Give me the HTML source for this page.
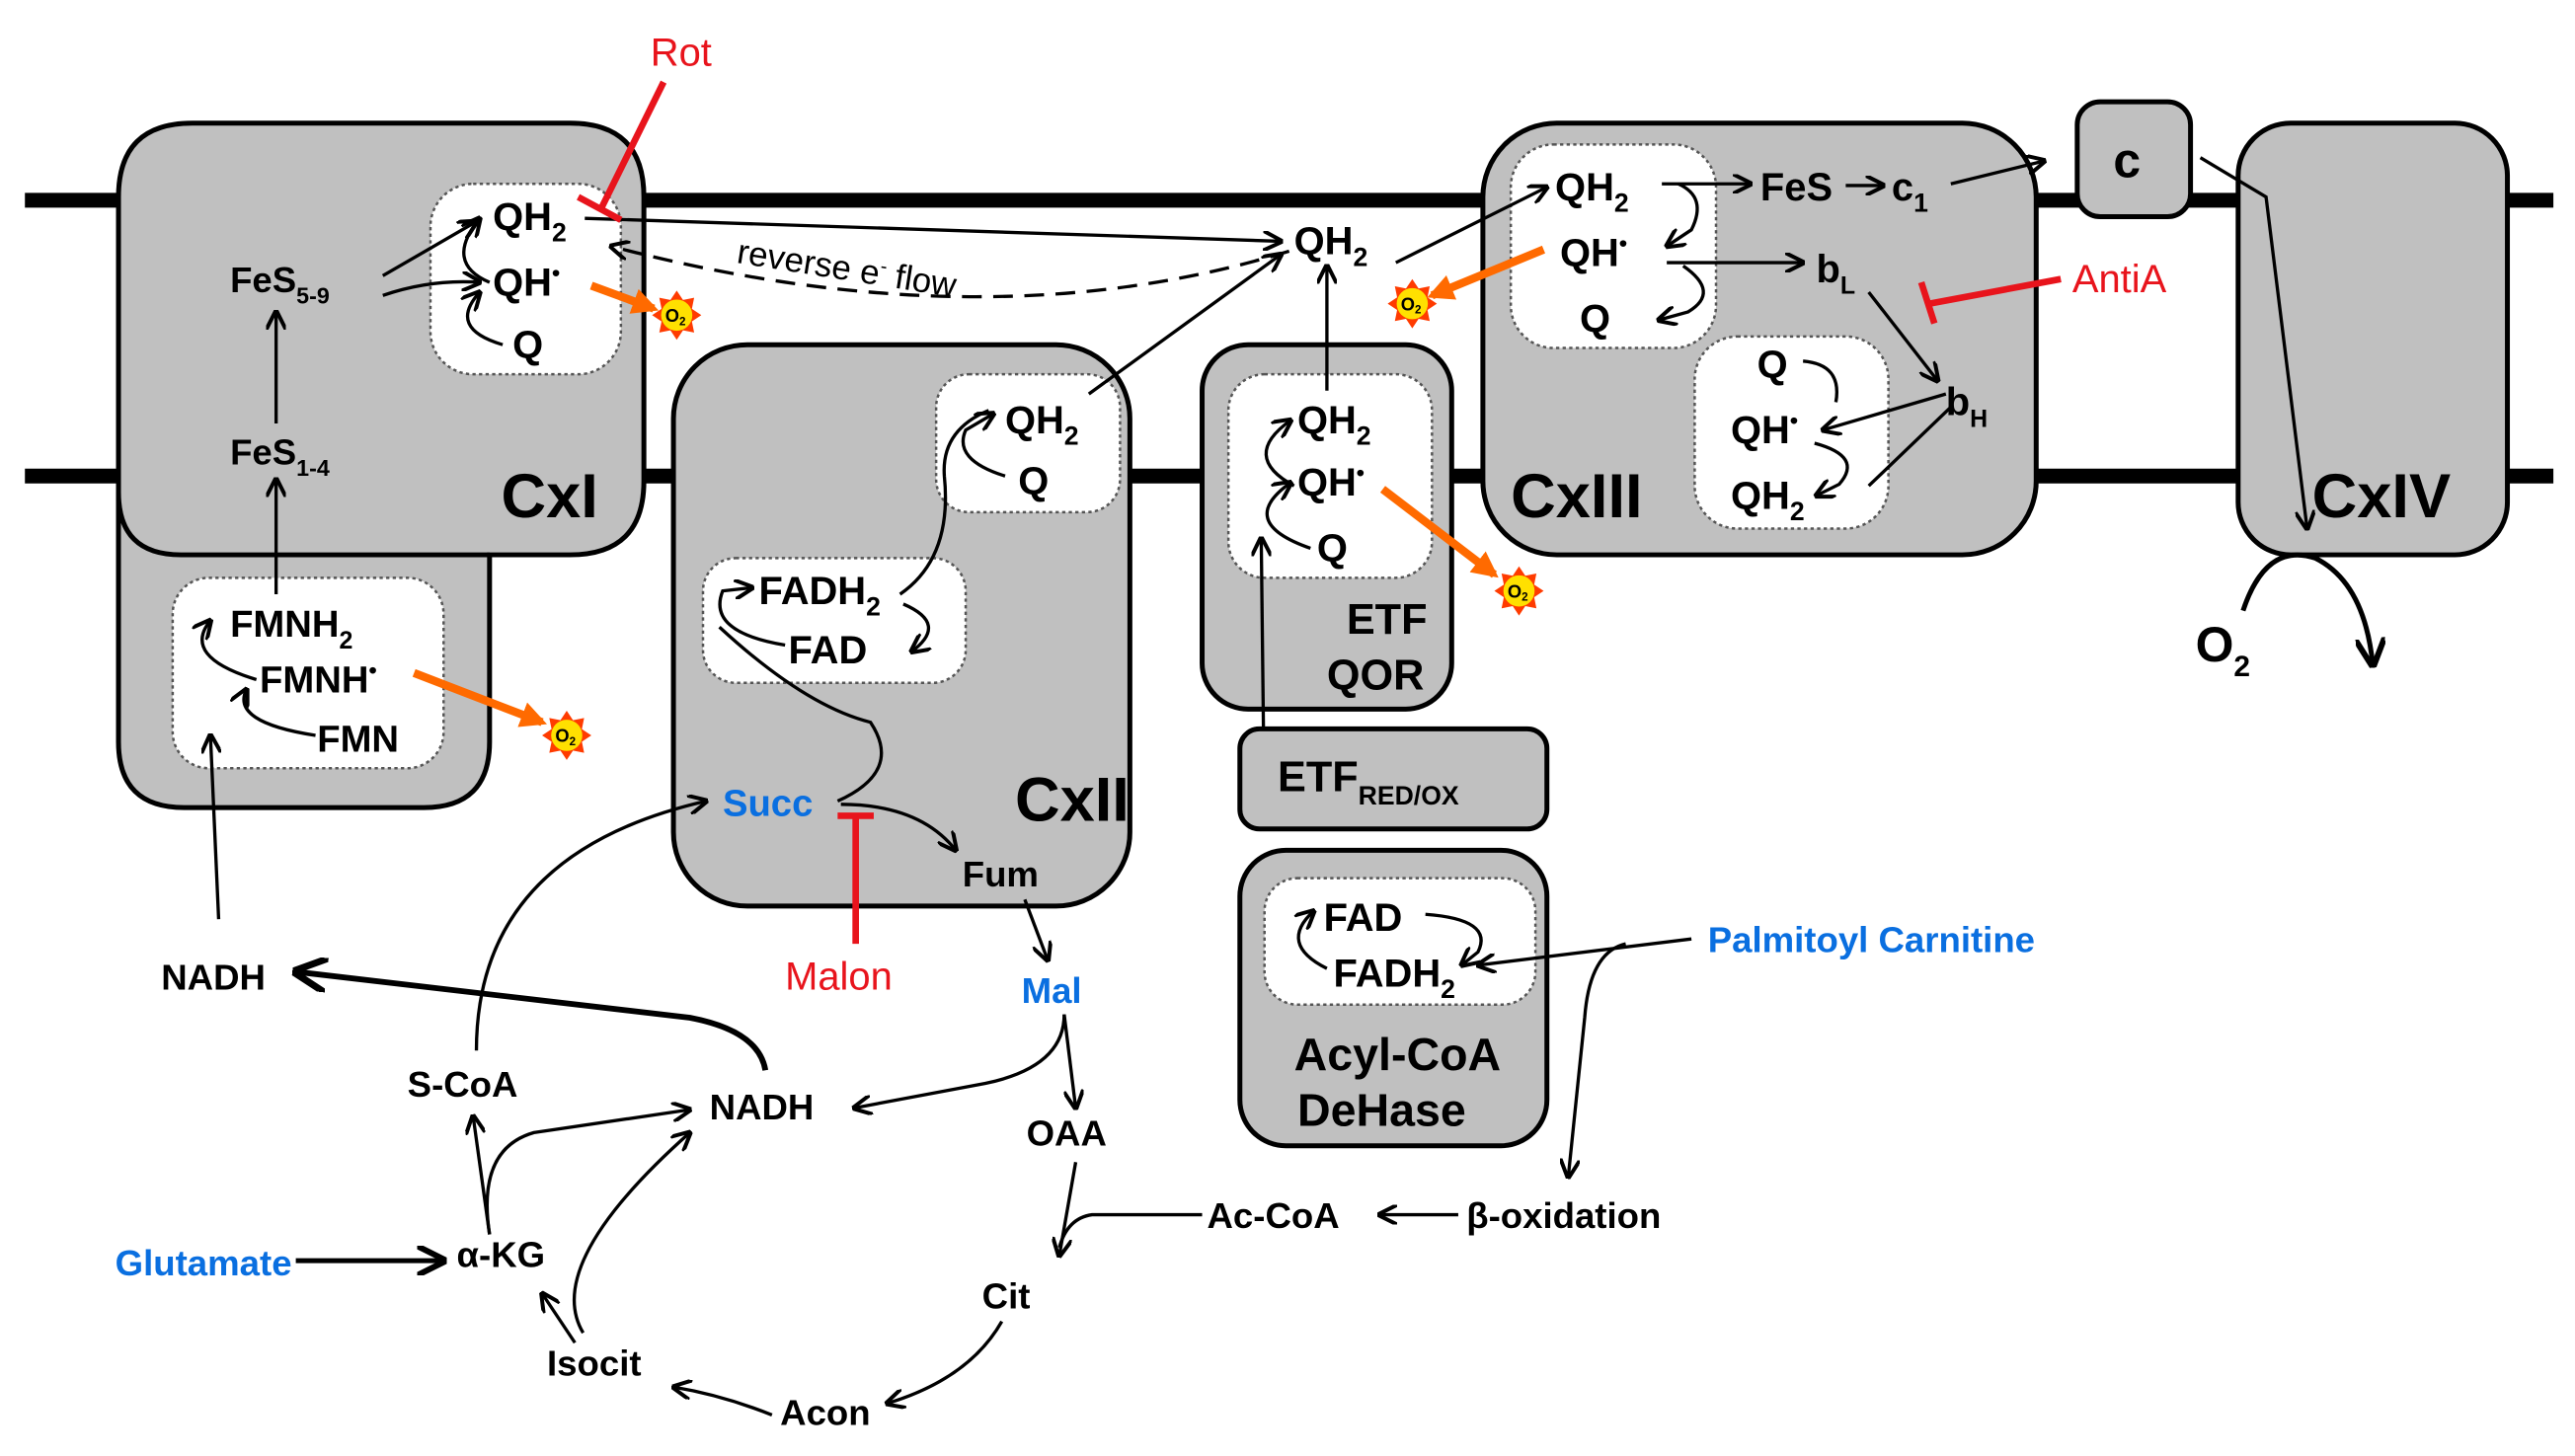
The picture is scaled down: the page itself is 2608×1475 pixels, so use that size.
<!DOCTYPE html>
<html><head><meta charset="utf-8"><style>
html,body{margin:0;padding:0;background:#fff;}
svg{display:block;}
text{font-family:"Liberation Sans",Arial,sans-serif;font-weight:bold;}
</style></head><body>
<svg width="2608" height="1475" viewBox="0 0 1568 887" xmlns="http://www.w3.org/2000/svg">
<defs>
<marker id="a" viewBox="0 0 10 10" refX="9" refY="5" markerWidth="6" markerHeight="6" orient="auto-start-reverse"><path d="M0,0 L10,5 L0,10" fill="none" stroke="#000" stroke-width="2"/></marker>
<marker id="o" viewBox="0 0 10 10" refX="8" refY="5" markerWidth="3.2" markerHeight="3.2" orient="auto"><path d="M0,0 L10,5 L0,10 z" fill="#ff6a00"/></marker>
</defs>
<rect width="1568" height="887" fill="#fff"/>
<line x1="15" y1="122" x2="1555" y2="122" stroke="#000" stroke-width="9"/>
<line x1="15" y1="290" x2="1555" y2="290" stroke="#000" stroke-width="9"/>

<!-- CxI -->
<path d="M117,75 H347 Q392,75 392,120 V293 Q392,338 347,338 H298 V452 Q298,492 258,492 H112 Q72,492 72,452 V120 Q72,75 117,75 Z" fill="#c0c0c0" stroke="#000" stroke-width="3"/>
<path d="M72,300 Q72,338 110,338 H298" fill="none" stroke="#000" stroke-width="3"/>
<rect x="262" y="112" width="116" height="116" rx="26" fill="#fff" stroke="#555" stroke-width="1.5" stroke-dasharray="2,2"/>
<rect x="105" y="352" width="165" height="116" rx="22" fill="#fff" stroke="#555" stroke-width="1.5" stroke-dasharray="2,2"/>
<text x="300" y="140" font-size="24">QH<tspan font-size="16" dy="7">2</tspan></text>
<text x="300" y="180" font-size="24">QH<tspan font-size="14" dy="-9">•</tspan></text>
<text x="312" y="218" font-size="24">Q</text>
<text x="140" y="178" font-size="22">FeS<tspan font-size="14" dy="7">5-9</tspan></text>
<text x="140" y="283" font-size="22">FeS<tspan font-size="14" dy="7">1-4</tspan></text>
<text x="305" y="315" font-size="38">CxI</text>
<text x="140" y="388" font-size="23">FMNH<tspan font-size="15" dy="7">2</tspan></text>
<text x="158" y="422" font-size="23">FMNH<tspan font-size="14" dy="-9">•</tspan></text>
<text x="193" y="458" font-size="23">FMN</text>
<g fill="none" stroke="#000" stroke-width="2">
<path d="M233,168 L290,135" marker-end="url(#a)"/>
<path d="M233,180 Q262,170 292,172" marker-end="url(#a)"/>
<path d="M298,172 Q270,160 292,133" marker-end="url(#a)"/>
<path d="M306,210 Q272,200 292,178" marker-end="url(#a)"/>
<line x1="168" y1="258" x2="168" y2="190" marker-end="url(#a)"/>
<line x1="168" y1="362" x2="168" y2="292" marker-end="url(#a)"/>
<path d="M156,414 Q110,400 128,378" marker-end="url(#a)"/>
<path d="M192,448 Q140,440 150,420" marker-end="url(#a)"/>
<line x1="133" y1="560" x2="128" y2="448" marker-end="url(#a)"/>
<path d="M356,133 L780,147" marker-end="url(#a)"/>
<path d="M785,153 Q600,210 372,150" stroke-dasharray="12,7" marker-end="url(#a)"/>
</g>
<text x="448" y="160" font-size="21" transform="rotate(9 448 160)" style="font-weight:normal">reverse e<tspan font-size="12" dy="-8">-</tspan><tspan dy="8"> flow</tspan></text>

<text x="396" y="40" font-size="24" fill="#e8141c" style="font-weight:normal">Rot</text>
<line x1="404" y1="50" x2="366" y2="127" stroke="#e8141c" stroke-width="4"/>
<line x1="352" y1="120" x2="378" y2="134" stroke="#e8141c" stroke-width="4"/>

<text x="788" y="155" font-size="24">QH<tspan font-size="16" dy="7">2</tspan></text>

<!-- CxII -->
<rect x="410" y="210" width="278" height="342" rx="45" fill="#c0c0c0" stroke="#000" stroke-width="3"/>
<rect x="570" y="228" width="112" height="84" rx="20" fill="#fff" stroke="#555" stroke-width="1.5" stroke-dasharray="2,2"/>
<rect x="428" y="340" width="160" height="76" rx="20" fill="#fff" stroke="#555" stroke-width="1.5" stroke-dasharray="2,2"/>
<text x="612" y="264" font-size="24">QH<tspan font-size="16" dy="7">2</tspan></text>
<text x="620" y="301" font-size="24">Q</text>
<text x="462" y="368" font-size="24">FADH<tspan font-size="16" dy="7">2</tspan></text>
<text x="480" y="404" font-size="24">FAD</text>
<text x="618" y="500" font-size="38">CxII</text>
<text x="440" y="497" font-size="23" fill="#0a6fe0">Succ</text>
<text x="586" y="540" font-size="22">Fum</text>
<g fill="none" stroke="#000" stroke-width="2">
<path d="M663,240 L780,155" marker-end="url(#a)"/>
<path d="M612,290 Q580,280 588,262 L605,252" marker-end="url(#a)"/>
<path d="M548,362 Q580,340 575,290 Q573,262 602,250"/>
<path d="M550,368 Q578,380 555,397" marker-end="url(#a)"/>
<path d="M478,393 Q430,385 440,360 L458,358" marker-end="url(#a)"/>
<path d="M438,382 Q490,430 530,440 Q550,470 510,488" />
<path d="M512,490 Q560,490 582,518" marker-end="url(#a)"/>
<path d="M624,548 L638,585" marker-end="url(#a)"/>
</g>
<text x="478" y="603" font-size="24" fill="#e8141c" style="font-weight:normal">Malon</text>
<line x1="521" y1="575" x2="521" y2="498" stroke="#e8141c" stroke-width="4"/>
<line x1="510" y1="497" x2="532" y2="497" stroke="#e8141c" stroke-width="4"/>

<!-- ETF QOR -->
<rect x="732" y="210" width="152" height="222" rx="28" fill="#c0c0c0" stroke="#000" stroke-width="3"/>
<rect x="748" y="228" width="124" height="124" rx="22" fill="#fff" stroke="#555" stroke-width="1.5" stroke-dasharray="2,2"/>
<text x="790" y="264" font-size="24">QH<tspan font-size="16" dy="7">2</tspan></text>
<text x="790" y="302" font-size="24">QH<tspan font-size="14" dy="-9">•</tspan></text>
<text x="802" y="342" font-size="24">Q</text>
<text x="820" y="386" font-size="26">ETF</text>
<text x="808" y="420" font-size="26">QOR</text>
<g fill="none" stroke="#000" stroke-width="2">
<line x1="808" y1="238" x2="808" y2="162" marker-end="url(#a)"/>
<path d="M788,296 Q755,278 786,256" marker-end="url(#a)"/>
<path d="M798,334 Q752,318 786,294" marker-end="url(#a)"/>
<line x1="770" y1="500" x2="768" y2="328" marker-end="url(#a)"/>
</g>

<rect x="755" y="444" width="187" height="61" rx="12" fill="#c0c0c0" stroke="#000" stroke-width="3"/>
<text x="778" y="482" font-size="26">ETF<tspan font-size="16" dy="8">RED/OX</tspan></text>

<rect x="755" y="518" width="187" height="180" rx="28" fill="#c0c0c0" stroke="#000" stroke-width="3"/>
<rect x="770" y="535" width="165" height="77" rx="20" fill="#fff" stroke="#555" stroke-width="1.5" stroke-dasharray="2,2"/>
<text x="806" y="567" font-size="24">FAD</text>
<text x="812" y="601" font-size="24">FADH<tspan font-size="16" dy="7">2</tspan></text>
<text x="788" y="652" font-size="28">Acyl-CoA</text>
<text x="790" y="686" font-size="28">DeHase</text>
<g fill="none" stroke="#000" stroke-width="2">
<path d="M808,590 Q778,575 800,555" marker-end="url(#a)"/>
<path d="M868,557 Q910,560 900,580 L890,588" marker-end="url(#a)"/>
<path d="M1030,572 L900,588" marker-end="url(#a)"/>
<path d="M990,575 Q968,580 965,620 L955,717" marker-end="url(#a)"/>
<line x1="888" y1="740" x2="840" y2="740" marker-end="url(#a)"/>
</g>
<text x="1040" y="580" font-size="22" fill="#0a6fe0">Palmitoyl Carnitine</text>
<text x="893" y="748" font-size="22">β-oxidation</text>
<text x="735" y="748" font-size="22">Ac-CoA</text>

<!-- CxIII -->
<rect x="903" y="75" width="337" height="263" rx="45" fill="#c0c0c0" stroke="#000" stroke-width="3"/>
<rect x="920" y="88" width="125" height="124" rx="26" fill="#fff" stroke="#555" stroke-width="1.5" stroke-dasharray="2,2"/>
<rect x="1032" y="205" width="118" height="117" rx="26" fill="#fff" stroke="#555" stroke-width="1.5" stroke-dasharray="2,2"/>
<text x="947" y="122" font-size="24">QH<tspan font-size="16" dy="7">2</tspan></text>
<text x="950" y="162" font-size="24">QH<tspan font-size="14" dy="-9">•</tspan></text>
<text x="962" y="202" font-size="24">Q</text>
<text x="1072" y="122" font-size="24">FeS</text>
<text x="1152" y="122" font-size="24">c<tspan font-size="16" dy="7">1</tspan></text>
<text x="1106" y="172" font-size="24">b<tspan font-size="15" dy="7">L</tspan></text>
<text x="1070" y="230" font-size="24">Q</text>
<text x="1054" y="270" font-size="24">QH<tspan font-size="14" dy="-9">•</tspan></text>
<text x="1054" y="310" font-size="24">QH<tspan font-size="16" dy="7">2</tspan></text>
<text x="1185" y="253" font-size="24">b<tspan font-size="15" dy="7">H</tspan></text>
<text x="920" y="315" font-size="38">CxIII</text>
<g fill="none" stroke="#000" stroke-width="2">
<path d="M850,160 L942,114" marker-end="url(#a)"/>
<path d="M1012,112 L1066,112" marker-end="url(#a)"/>
<path d="M1022,112 Q1040,120 1030,140 L1015,150" marker-end="url(#a)"/>
<path d="M1124,113 L1147,113" marker-end="url(#a)"/>
<path d="M1188,112 L1245,98" marker-end="url(#a)"/>
<path d="M1015,160 L1098,160" marker-end="url(#a)"/>
<path d="M1025,162 Q1048,178 1028,190 L1010,195" marker-end="url(#a)"/>
<path d="M1138,178 L1180,232" marker-end="url(#a)"/>
<path d="M1098,220 Q1122,222 1118,245"/>
<path d="M1185,240 L1110,262" marker-end="url(#a)"/>
<path d="M1105,270 Q1135,278 1120,295 L1106,302" marker-end="url(#a)"/>
<path d="M1188,248 L1138,296"/>
</g>
<line x1="1255" y1="170" x2="1175" y2="185" stroke="#e8141c" stroke-width="4"/>
<line x1="1170" y1="172" x2="1178" y2="197" stroke="#e8141c" stroke-width="4"/>
<text x="1262" y="178" font-size="24" fill="#e8141c" style="font-weight:normal">AntiA</text>

<rect x="1265" y="62" width="69" height="70" rx="14" fill="#c0c0c0" stroke="#000" stroke-width="3"/>
<text x="1287" y="108" font-size="30">c</text>

<rect x="1363" y="75" width="164" height="263" rx="32" fill="#c0c0c0" stroke="#000" stroke-width="3"/>
<text x="1408" y="315" font-size="38">CxIV</text>
<g fill="none" stroke="#000" stroke-width="2">
<path d="M1340,96 L1380,120 L1405,322" marker-end="url(#a)"/>
<path d="M1366,372 Q1380,330 1410,340 Q1440,355 1445,405" stroke-width="3" marker-end="url(#a)"/>
</g>
<text x="1337" y="403" font-size="30">O<tspan font-size="18" dy="9">2</tspan></text>

<g stroke="#ff6a00" stroke-width="5" fill="none">
<line x1="360" y1="174" x2="398" y2="188" marker-end="url(#o)"/>
<line x1="252" y1="410" x2="330" y2="440" marker-end="url(#o)"/>
<line x1="940" y1="152" x2="872" y2="180" marker-end="url(#o)"/>
<line x1="842" y1="298" x2="910" y2="350" marker-end="url(#o)"/>
</g>
<g font-size="11">
<g transform="translate(412,192)"><polygon points="15,0 9.24,3.83 10.61,10.61 3.83,9.24 0,15 -3.83,9.24 -10.61,10.61 -9.24,3.83 -15,0 -9.24,-3.83 -10.61,-10.61 -3.83,-9.24 0,-15 3.83,-9.24 10.61,-10.61 9.24,-3.83" fill="#ff3b00"/><circle r="9.5" fill="#ffe000"/><text x="-7" y="4">O<tspan font-size="7" dy="2">2</tspan></text></g>
<g transform="translate(345,448)"><polygon points="15,0 9.24,3.83 10.61,10.61 3.83,9.24 0,15 -3.83,9.24 -10.61,10.61 -9.24,3.83 -15,0 -9.24,-3.83 -10.61,-10.61 -3.83,-9.24 0,-15 3.83,-9.24 10.61,-10.61 9.24,-3.83" fill="#ff3b00"/><circle r="9.5" fill="#ffe000"/><text x="-7" y="4">O<tspan font-size="7" dy="2">2</tspan></text></g>
<g transform="translate(860,185)"><polygon points="15,0 9.24,3.83 10.61,10.61 3.83,9.24 0,15 -3.83,9.24 -10.61,10.61 -9.24,3.83 -15,0 -9.24,-3.83 -10.61,-10.61 -3.83,-9.24 0,-15 3.83,-9.24 10.61,-10.61 9.24,-3.83" fill="#ff3b00"/><circle r="9.5" fill="#ffe000"/><text x="-7" y="4">O<tspan font-size="7" dy="2">2</tspan></text></g>
<g transform="translate(925,360)"><polygon points="15,0 9.24,3.83 10.61,10.61 3.83,9.24 0,15 -3.83,9.24 -10.61,10.61 -9.24,3.83 -15,0 -9.24,-3.83 -10.61,-10.61 -3.83,-9.24 0,-15 3.83,-9.24 10.61,-10.61 9.24,-3.83" fill="#ff3b00"/><circle r="9.5" fill="#ffe000"/><text x="-7" y="4">O<tspan font-size="7" dy="2">2</tspan></text></g>
</g>

<!-- TCA cycle -->
<text x="98" y="603" font-size="22">NADH</text>
<text x="432" y="682" font-size="22">NADH</text>
<text x="248" y="668" font-size="22">S-CoA</text>
<text x="278" y="772" font-size="22">α-KG</text>
<text x="70" y="777" font-size="22" fill="#0a6fe0">Glutamate</text>
<text x="333" y="838" font-size="22">Isocit</text>
<text x="475" y="868" font-size="22">Acon</text>
<text x="598" y="797" font-size="22">Cit</text>
<text x="625" y="698" font-size="22">OAA</text>
<text x="622" y="611" font-size="22" fill="#0a6fe0">Mal</text>
<g fill="none" stroke="#000" stroke-width="2">
<path d="M466,652 Q462,628 420,620 L180,592" stroke-width="3.5" marker-end="url(#a)"/>
<path d="M290,640 Q290,520 430,488" marker-end="url(#a)"/>
<path d="M648,618 Q648,650 600,660 L520,675" marker-end="url(#a)"/>
<path d="M648,618 L655,675" marker-end="url(#a)"/>
<path d="M655,708 L645,765" marker-end="url(#a)"/>
<path d="M732,740 L665,740 Q650,742 645,760"/>
<path d="M610,805 Q590,840 540,855" marker-end="url(#a)"/>
<path d="M470,862 Q440,850 410,845" marker-end="url(#a)"/>
<path d="M350,818 L330,788" marker-end="url(#a)"/>
<path d="M355,812 Q330,770 420,690" marker-end="url(#a)"/>
<path d="M298,752 Q290,700 325,690 L420,676" marker-end="url(#a)"/>
<path d="M298,752 L288,680" marker-end="url(#a)"/>
<path d="M180,768 L270,768" stroke-width="3" marker-end="url(#a)"/>
</g>
</svg>
</body></html>
